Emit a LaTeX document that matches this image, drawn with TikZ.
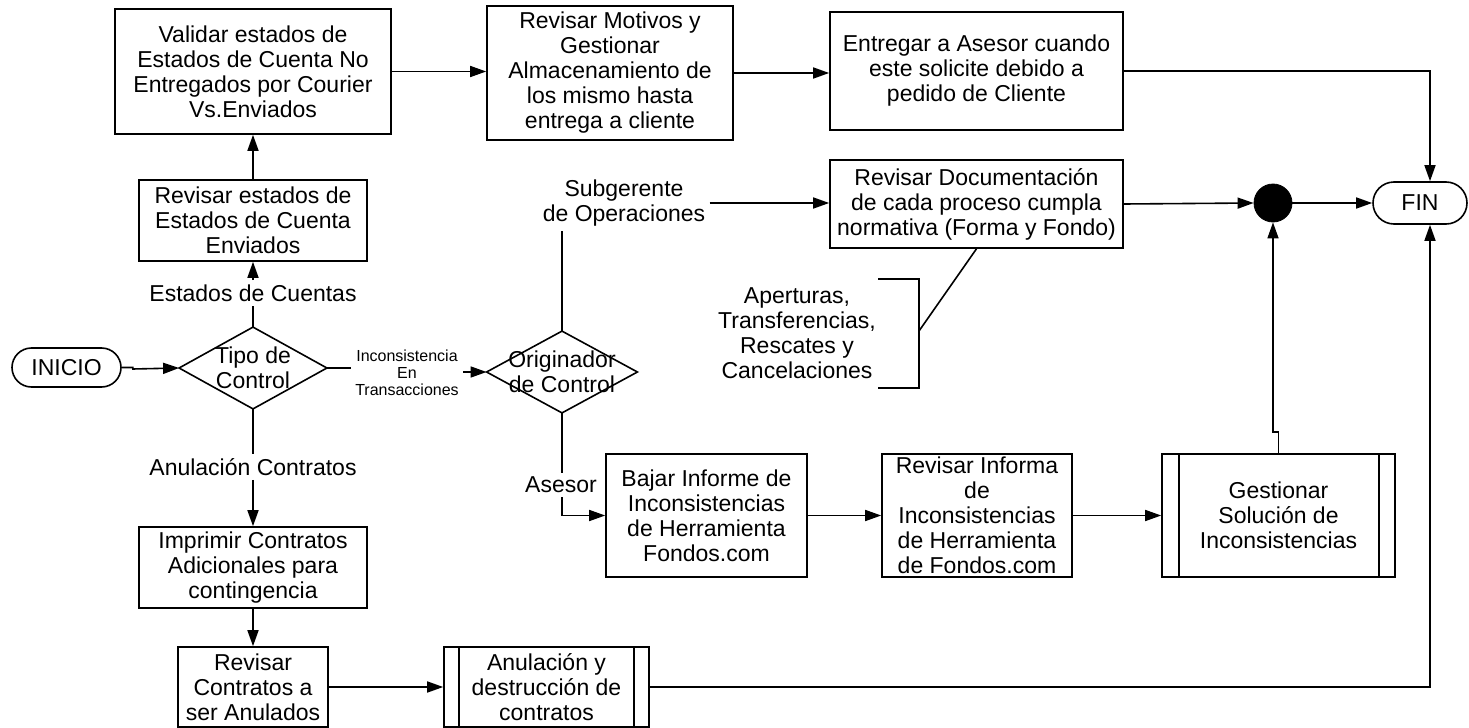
\documentclass[tikz,border=0pt]{standalone}
\usepackage{fontspec}
\setmainfont{Liberation Sans}
\usetikzlibrary{arrows.meta,calc}
\begin{document}
\begin{tikzpicture}[x=0.5pt,y=-0.5pt,
  every node/.style={font=\fontsize{11.5}{12.5}\selectfont, align=center, inner sep=0pt},
  box/.style={draw, line width=0.8pt, rectangle},
  lbl/.style={inner sep=2pt},
  small/.style={font=\fontsize{8}{8.5}\selectfont},
  conn/.style={line width=0.8pt},
  arr/.style={conn, -{Triangle[length=8pt,width=5.5pt]}},
  stadium/.style={draw, line width=0.8pt, rounded corners=#1},
  dia/.style={rectangle}
]
\useasboundingbox (0,0) rectangle (1469,728);

% boxes
\node[box, minimum width=138pt, minimum height=62.5pt] (A) at (253,71.5)
  {Validar estados  de\\Estados de Cuenta No\\Entregados por Courier\\Vs.Enviados};
\node[box, minimum width=123pt, minimum height=67pt] (B) at (610,73)
  {Revisar Motivos y\\Gestionar\\Almacenamiento de\\los mismo hasta\\entrega a cliente};
\node[box, minimum width=146.5pt, minimum height=59pt] (C) at (976.5,71)
  {Entregar a Asesor cuando\\este solicite debido a\\pedido de Cliente};
\node[box, minimum width=114pt, minimum height=40.5pt] (D) at (253,220.5)
  {Revisar estados  de\\Estados de Cuenta\\Enviados};
\node[box, minimum width=146.5pt, minimum height=44pt] (E) at (976.5,204)
  {Revisar  Documentación\\de cada proceso cumpla\\normativa (Forma y Fondo)};

% start / end
\node[stadium=9.75pt, minimum width=54.5pt, minimum height=19.5pt] (inicio) at (66.5,367.5) {INICIO};
\node[stadium=10.5pt, minimum width=47pt, minimum height=21pt] (fin) at (1420,203) {FIN};
\node[circle, fill=black, draw, minimum size=19pt] (dot) at (1273,203) {};

% decisions
\node[dia, minimum width=73.5pt, minimum height=40.5pt] (tipo) at (253,368) {Tipo de\\Control};
\draw[conn] (tipo.north) -- (tipo.east) -- (tipo.south) -- (tipo.west) -- cycle;
\node[dia, minimum width=75pt, minimum height=40.5pt] (orig) at (562,372) {Originador\\de Control};
\draw[conn] (orig.north) -- (orig.east) -- (orig.south) -- (orig.west) -- cycle;

% labels
\node[lbl] (lest) at (253,293) {Estados de Cuentas};
\node[lbl] (lanu) at (253,467) {Anulación Contratos};
\node[lbl, small] (linc) at (407,373) {Inconsistencia\\En\\Transacciones};
\node[lbl] (lsub) at (624,203) {Subgerente\\de Operaciones};
\node[lbl] (lase) at (561,485) {Asesor};
\node (lape) at (797,333) {Aperturas,\\Transferencias,\\Rescates y\\Cancelaciones};

% bottom row boxes
\node[box, minimum width=100.5pt, minimum height=61.5pt] (bajar) at (706.5,515.5)
  {Bajar Informe de\\Inconsistencias\\de Herramienta\\Fondos.com};
\node[box, minimum width=95pt, minimum height=61.5pt] (revinf) at (977,515.5)
  {Revisar Informa\\de\\Inconsistencias\\de Herramienta\\de Fondos.com};
\node[box, minimum width=116.5pt, minimum height=61.5pt] (gest) at (1278.5,515.5)
  {Gestionar\\Solución de\\Inconsistencias};
\draw[conn] ([xshift=9pt]gest.north west) -- ([xshift=9pt]gest.south west);
\draw[conn] ([xshift=-8.5pt]gest.north east) -- ([xshift=-8.5pt]gest.south east);
\node[box, minimum width=114pt, minimum height=40.5pt] (imp) at (253,567.5)
  {Imprimir Contratos\\Adicionales para\\contingencia};
\node[box, minimum width=75pt, minimum height=40pt] (revcon) at (253,687)
  {Revisar\\Contratos a\\ser Anulados};
\node[box, minimum width=102.5pt, minimum height=40pt] (anul) at (546.5,687)
  {Anulación y\\destrucción de\\contratos};
\draw[conn] ([xshift=8pt]anul.north west) -- ([xshift=8pt]anul.south west);
\draw[conn] ([xshift=-8pt]anul.north east) -- ([xshift=-8pt]anul.south east);

% bracket
\coordinate (bt) at (878,279);
\coordinate (bb) at (878,388);
\coordinate (bm) at (919,331);
\draw[conn] (bt) -- (bt -| bm) -- (bb -| bm) -- (bb);
\draw[conn] (bm) -- (E.south);

% connectors
\draw[arr] (inicio.east) -- ++(11,0) -- ++(0,1.5) -- (tipo.west);
\draw[conn] (tipo.north) -- (lest.south);
\draw[arr] (lest.north) -- (D.south);
\draw[arr] (D.north) -- (A.south);
\draw[arr] (A.east) -- (A.east -| B.west);
\draw[arr] (B.east) -- (B.east -| C.west);
\draw[arr] (C.east) -| ([xshift=5pt]fin.north);
\draw[conn] (tipo.south) -- (lanu.north);
\draw[arr] (lanu.south) -- (imp.north);
\draw[arr] (imp.south) -- (revcon.north);
\draw[arr] (revcon.east) -- (anul.west);
\draw[arr] (anul.east) -| ([xshift=5pt]fin.south);
\draw[conn] (tipo.east) -- (tipo.east -| linc.west);
\draw[arr] (linc.east |- orig.west) -- (orig.west);
\draw[conn] (orig.north) -- (orig.north |- lsub.south);
\draw[arr] (lsub.east) -- (lsub.east -| E.west);
\draw[arr] (E.east) -- (dot.west);
\draw[arr] (dot.east) -- (fin.west);
\draw[conn] (orig.south) -- (orig.south |- lase.north);
\draw[arr] (orig.south |- lase.south) |- (bajar.west);
\draw[arr] (bajar.east) -- (revinf.west);
\draw[arr] (revinf.east) -- (gest.west);
\draw[arr] (gest.north) -- ++(0,-21) -| (dot.south);
\end{tikzpicture}
\end{document}
